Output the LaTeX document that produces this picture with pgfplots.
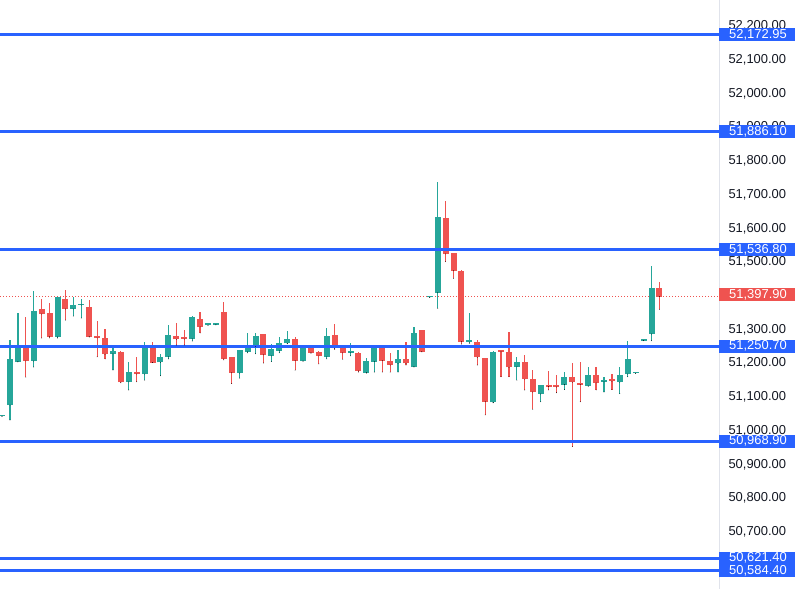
\documentclass[border=0pt]{standalone}
\usepackage{pgfplots}
\pgfplotsset{compat=1.18}
\usepackage{pgfplotstable}
\usepackage{fontspec}
\setmainfont{Liberation Sans}

\definecolor{cgreen}{HTML}{26A69A}
\definecolor{cred}{HTML}{EF5350}
\definecolor{cblue}{HTML}{2962FF}
\definecolor{ctext}{HTML}{131722}
\definecolor{cline}{HTML}{E0E3EB}

% candles: index, open, high, low, close
\pgfplotstableread{
x o h l c
-1 51043 51048 51043 51048
0 51076 51269 51032 51213
1 51205 51349 51204 51249
3 51207 51414 51189 51355
6 51278 51397 51275 51396
8 51361 51396 51340 51373
9 51373 51390 51334 51377
13 51228 51249 51180 51236
15 51145 51204 51121 51174
17 51168 51264 51150 51252
19 51203 51228 51163 51219
20 51219 51313 51213 51284
23 51273 51340 51266 51337
25 51313 51320 51313 51319
26 51314 51319 51314 51319
29 51171 51240 51156 51239
30 51234 51290 51231 51249
31 51249 51291 51228 51282
33 51222 51257 51205 51242
34 51237 51277 51231 51261
35 51259 51296 51258 51271
37 51207 51250 51206 51249
40 51219 51304 51213 51281
43 51231 51261 51222 51236
45 51172 51215 51171 51207
46 51205 51247 51174 51246
49 51200 51239 51174 51213
51 51190 51307 51189 51289
53 51395 51400 51395 51400
54 51409 51738 51363 51633
58 51263 51348 51259 51268
61 51084 51235 51083 51234
64 51190 51219 51150 51204
67 51109 51135 51086 51135
70 51137 51174 51122 51158
73 51133 51190 51132 51165
75 51145 51160 51115 51150
77 51144 51190 51110 51165
78 51168 51267 51160 51212
79 51170 51175 51170 51175
80 51267 51272 51267 51272
81 51287 51488 51267 51424
}\upcandles

\pgfplotstableread{
x o h l c
2 51245 51337 51159 51207
4 51361 51390 51275 51346
5 51350 51379 51275 51279
7 51390 51417 51328 51361
10 51368 51388 51278 51279
11 51281 51326 51219 51275
12 51276 51302 51213 51227
14 51234 51237 51142 51144
16 51174 51219 51145 51168
18 51248 51264 51202 51202
21 51282 51319 51254 51271
22 51278 51299 51254 51272
24 51331 51353 51290 51308
27 51351 51383 51210 51213
28 51219 51220 51140 51172
32 51286 51287 51201 51225
36 51271 51277 51180 51208
38 51247 51248 51230 51231
39 51234 51237 51198 51222
41 51284 51316 51241 51244
42 51251 51254 51212 51231
44 51231 51234 51174 51177
47 51244 51245 51174 51208
48 51207 51231 51174 51195
50 51213 51264 51195 51200
52 51299 51300 51234 51234
55 51630 51682 51501 51524
56 51526 51527 51452 51474
57 51474 51475 51257 51264
59 51264 51269 51195 51218
60 51215 51216 51047 51086
62 51239 51240 51160 51234
63 51234 51293 51160 51188
65 51203 51225 51121 51153
66 51153 51180 51064 51115
68 51135 51177 51121 51131
69 51135 51165 51113 51130
71 51158 51200 50953 51144
72 51142 51205 51086 51137
74 51165 51190 51121 51142
76 51153 51168 51122 51147
82 51424 51442 51360 51397.9
}\downcandles

\newcommand\pricetag[4][0bp]{%
  \node[anchor=west, fill=#2, text=white, inner xsep=0pt, inner ysep=0.5bp,
        text height=9.5bp, text depth=2.5bp, yshift=#1, font=\fontsize{13}{15}\selectfont]
    at (axis cs:89.52,#3) {\hspace*{10bp}#4\hspace*{8bp}};}

\pgfplotsset{
  candle/.style={only marks, mark=*, mark size=0.1pt, mark options={draw=none, fill=none},
    error bars/.cd, y dir=plus, y explicit, error mark=none,
    error bar style={line width=#1}},
}

\begin{document}
\begin{tikzpicture}
\useasboundingbox (0,0) rectangle (800bp,589bp);
\begin{axis}[
    at={(0,0)}, anchor=south west,
    scale only axis,
    width=719bp, height=589bp,
    xmin=-1.263, xmax=89.52,
    ymin=50531, ymax=52276.7,
    axis x line=none,
    axis y line*=right,
    axis line style={cline, line width=1bp},
    xtick=\empty,
    ytick distance=100,
    scaled y ticks=false,
    major tick length=0pt,
    yticklabel style={font=\fontsize{13}{15}\selectfont, text=ctext, anchor=west, xshift=6bp},
    /pgf/number format/.cd, fixed, fixed zerofill, precision=2, 1000 sep={,}, assume math mode=true,
    /pgfplots/.cd,
    clip=false,
]

% last price dotted line
\addplot[cred, line width=0.8bp, dash pattern=on 1bp off 2bp] coordinates {(-1.263,51397.9) (89.52,51397.9)};

% wicks
\addplot[candle=1.2bp, error bar style={cgreen}]
    table[x=x, y=l, y error plus expr=\thisrow{h}-\thisrow{l}] {\upcandles};
\addplot[candle=1.2bp, error bar style={cred}]
    table[x=x, y=l, y error plus expr=\thisrow{h}-\thisrow{l}] {\downcandles};

% bodies
\addplot[candle=6bp, error bar style={cgreen}]
    table[x=x, y=o, y error plus expr=\thisrow{c}-\thisrow{o}] {\upcandles};
\addplot[candle=6bp, error bar style={cred}]
    table[x=x, y=c, y error plus expr=\thisrow{o}-\thisrow{c}] {\downcandles};

% levels
\addplot[cblue, line width=3bp] coordinates {(-1.263,52172.95) (89.52,52172.95)};
\addplot[cblue, line width=3bp] coordinates {(-1.263,51886.10) (89.52,51886.10)};
\addplot[cblue, line width=3bp] coordinates {(-1.263,51536.80) (89.52,51536.80)};
\addplot[cblue, line width=3bp] coordinates {(-1.263,51250.70) (89.52,51250.70)};
\addplot[cblue, line width=3bp] coordinates {(-1.263,50968.90) (89.52,50968.90)};
\addplot[cblue, line width=3bp] coordinates {(-1.263,50621.40) (89.52,50621.40)};
\addplot[cblue, line width=3bp] coordinates {(-1.263,50584.40) (89.52,50584.40)};

\pricetag{cblue}{52172.95}{52,172.95}
\pricetag{cblue}{51886.10}{51,886.10}
\pricetag{cblue}{51536.80}{51,536.80}
\pricetag[2bp]{cred}{51397.90}{51,397.90}
\pricetag{cblue}{51250.70}{51,250.70}
\pricetag{cblue}{50968.90}{50,968.90}
\pricetag{cblue}{50621.40}{50,621.40}
\pricetag{cblue}{50584.40}{50,584.40}
\end{axis}
\end{tikzpicture}
\end{document}
